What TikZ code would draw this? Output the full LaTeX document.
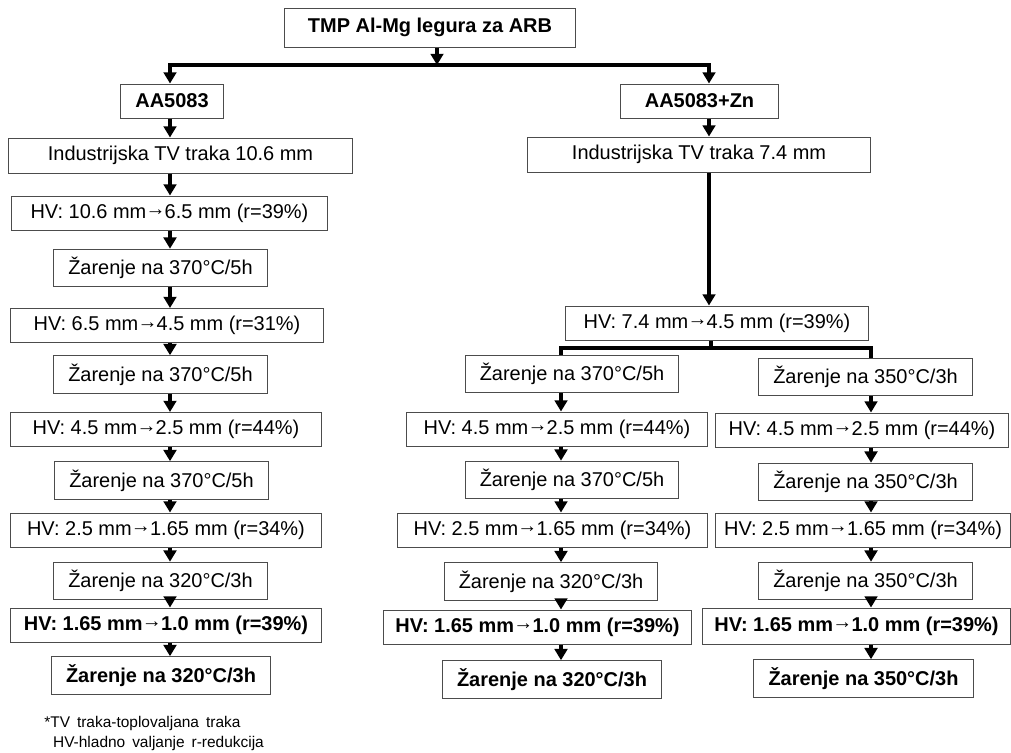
\documentclass[tikz,border=0pt]{standalone}
\usepackage{fontspec}
\setmainfont{Liberation Sans}
\usetikzlibrary{arrows.meta}

\newcommand{\rto}{\kern-0.04em\raisebox{0.12em}{→}\kern-0.04em}

\tikzset{
  stage/.style={draw=black!70, line width=0.7pt, inner sep=1pt,
    minimum height=0.85cm, font=\fontsize{14.2}{17}\selectfont},
  anneal/.style={stage, minimum height=0.94cm},
  keystage/.style={stage, font=\fontsize{14.2}{17}\selectfont\bfseries},
  keyanneal/.style={anneal, font=\fontsize{14.2}{17}\selectfont\bfseries},
  flow/.style={line width=2.3pt, -{Triangle[length=8pt,width=9pt]}},
  fork/.style={line width=2.3pt},
}

\begin{document}
\begin{tikzpicture}[x=0.025cm, y=-0.025cm]
  \useasboundingbox (0,0) rectangle (1011,752);

  % columns and junctions
  \coordinate (colL) at (170,0);
  \coordinate (colZ) at (709,0);
  \coordinate (colM) at (561,0);
  \coordinate (colR) at (871,0);
  \coordinate (split) at (437,65);
  \coordinate (fork) at (711,348);

  % top
  \node[keystage, minimum width=7.25cm, minimum height=0.975cm] (tmp) at (430,27.5) {TMP Al-Mg legura za ARB};
  \node[keystage, minimum width=2.55cm] (a5083) at (172,101) {AA5083};
  \node[keystage, minimum width=3.925cm] (azn) at (699.5,101) {AA5083+Zn};

  % AA5083
  \node[stage, minimum width=8.575cm, minimum height=0.875cm] (ind1) at (180.5,155.5) {Industrijska TV traka 10.6 mm};
  \node[stage, minimum width=7.875cm] (hvl1) at (169.5,213) {HV: 10.6 mm\rto6.5 mm (r=39\%)};
  \node[anneal, minimum width=5.325cm] (zl1) at (160.5,268) {Žarenje na 370°C/5h};
  \node[stage, minimum width=7.8cm] (hvl2) at (167,325.5) {HV: 6.5 mm\rto4.5 mm (r=31\%)};
  \node[anneal, minimum width=5.325cm] (zl2) at (160.5,374.5) {Žarenje na 370°C/5h};
  \node[stage, minimum width=7.75cm] (hvl3) at (166,429.5) {HV: 4.5 mm\rto2.5 mm (r=44\%)};
  \node[anneal, minimum width=5.325cm] (zl3) at (161.5,480.5) {Žarenje na 370°C/5h};
  \node[stage, minimum width=7.75cm] (hvl4) at (166,530) {HV: 2.5 mm\rto1.65 mm (r=34\%)};
  \node[anneal, minimum width=5.325cm] (zl4) at (160.5,581) {Žarenje na 320°C/3h};
  \node[keystage, minimum width=7.75cm] (hvl5) at (166,625) {HV: 1.65 mm\rto1.0 mm (r=39\%)};
  \node[keyanneal, minimum width=5.45cm] (zl5) at (161,675.5) {Žarenje na 320°C/3h};

  % AA5083+Zn
  \node[stage, minimum width=8.55cm, minimum height=0.875cm] (ind2) at (699,154.5) {Industrijska TV traka 7.4 mm};
  \node[stage, minimum width=7.55cm] (hv74) at (717,323) {HV: 7.4 mm\rto4.5 mm (r=39\%)};

  \node[anneal, minimum width=5.3cm] (zm1) at (572,374) {Žarenje na 370°C/5h};
  \node[stage, minimum width=7.5cm] (hvm2) at (557,429) {HV: 4.5 mm\rto2.5 mm (r=44\%)};
  \node[anneal, minimum width=5.3cm] (zm2) at (572,480) {Žarenje na 370°C/5h};
  \node[stage, minimum width=7.725cm] (hvm3) at (552.5,530) {HV: 2.5 mm\rto1.65 mm (r=34\%)};
  \node[anneal, minimum width=5.3cm] (zm3) at (551,581.5) {Žarenje na 320°C/3h};
  \node[keystage, minimum width=7.675cm] (hvm4) at (537.5,627) {HV: 1.65 mm\rto1.0 mm (r=39\%)};
  \node[keyanneal, minimum width=5.45cm] (zm4) at (552,679.5) {Žarenje na 320°C/3h};

  \node[anneal, minimum width=5.325cm] (zr1) at (865.5,377) {Žarenje na 350°C/3h};
  \node[stage, minimum width=7.3cm] (hvr2) at (862,430) {HV: 4.5 mm\rto2.5 mm (r=44\%)};
  \node[anneal, minimum width=5.325cm] (zr2) at (865.5,482) {Žarenje na 350°C/3h};
  \node[stage, minimum width=7.35cm] (hvr3) at (863,530) {HV: 2.5 mm\rto1.65 mm (r=34\%)};
  \node[anneal, minimum width=5.325cm] (zr3) at (865.5,581) {Žarenje na 350°C/3h};
  \node[keystage, minimum width=7.675cm, minimum height=0.9cm] (hvr4) at (856.5,626) {HV: 1.65 mm\rto1.0 mm (r=39\%)};
  \node[keyanneal, minimum width=5.475cm] (zr4) at (863.5,678.5) {Žarenje na 350°C/3h};

  % legend
  \node[anchor=north west, inner sep=0pt, align=left, font=\fontsize{11}{14.2}\selectfont] (note) at (44,716)
    {\spaceskip=0.45em\relax *TV traka-toplovaljana traka\\
     \spaceskip=0.45em\relax\hspace{0.22cm}HV-hladno valjanje r-redukcija};

  % arrows
  \draw[flow] (tmp.south -| split) -- (split);
  \draw[flow, line width=2.9pt] (split) -| (a5083.north -| colL);
  \draw[flow, line width=2.9pt] (split) -| (azn.north -| colZ);
  \foreach \a/\b in {a5083/ind1, ind1/hvl1, hvl1/zl1, zl1/hvl2, hvl2/zl2, zl2/hvl3,
                     hvl3/zl3, zl3/hvl4, hvl4/zl4, zl4/hvl5, hvl5/zl5}
    \draw[flow] (\a.south -| colL) -- (\b.north -| colL);
  \draw[flow] (azn.south -| colZ) -- (ind2.north -| colZ);
  \draw[flow, line width=2.9pt] (ind2.south -| colZ) -- (hv74.north -| colZ);
  \draw[fork] (hv74.south -| fork) -- (fork);
  \draw[fork] (fork) -| (zm1.north -| colM);
  \draw[fork] (fork) -| (zr1.north -| colR);
  \foreach \a/\b in {zm1/hvm2, hvm2/zm2, zm2/hvm3, hvm3/zm3, zm3/hvm4, hvm4/zm4}
    \draw[flow] (\a.south -| colM) -- (\b.north -| colM);
  \foreach \a/\b in {zr1/hvr2, hvr2/zr2, zr2/hvr3, hvr3/zr3, zr3/hvr4, hvr4/zr4}
    \draw[flow] (\a.south -| colR) -- (\b.north -| colR);
\end{tikzpicture}
\end{document}
